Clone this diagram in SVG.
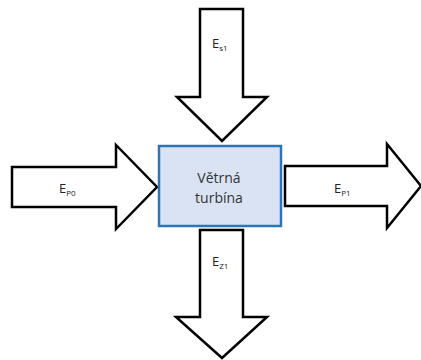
<svg xmlns="http://www.w3.org/2000/svg" width="421" height="360" viewBox="0 0 421 360">
<style>
.arr{fill:#fff;stroke:#000;stroke-width:2.5;stroke-linejoin:miter}
.lbl{font-family:"Open Sans","Liberation Sans",sans-serif;font-size:13px;fill:#222}
.sub{font-size:8px}
.box{fill:#dae3f3;stroke:#2e75b6;stroke-width:2.5}
.bt{font-family:"Open Sans","Liberation Sans",sans-serif;font-size:14px;fill:#333;text-anchor:middle}
</style>
<rect width="421" height="360" fill="#fff"/>
<g id="connectors">
<g id="arrow-es1"><polygon class="arr" points="200,9 243,9 243,97 267,97 222,141 177,97 200,97"/>
<text class="lbl" x="212" y="48">E<tspan class="sub" dy="3">s1</tspan></text></g>
<g id="arrow-ep0"><polygon class="arr" points="12,167 116,167 116,145 157,187 116,229 116,207 12,207"/>
<text class="lbl" x="59" y="193">E<tspan class="sub" dy="3">P0</tspan></text></g>
<g id="arrow-ep1"><polygon class="arr" points="285,166 387,166 387,144 421,186 387,228 387,206 285,206"/>
<text class="lbl" x="334" y="193">E<tspan class="sub" dy="3">P1</tspan></text></g>
<g id="arrow-ez1"><polygon class="arr" points="200,230 243,230 243,317 267,317 222,358 176,317 200,317"/>
<text class="lbl" x="212" y="266">E<tspan class="sub" dy="3">Z1</tspan></text></g>
</g>
<g id="turbine">
<rect class="box" x="159" y="146" width="122" height="80"/>
<text class="bt" x="219" y="183">Větrná</text>
<text class="bt" x="219" y="203">turbína</text>
</g>
</svg>
